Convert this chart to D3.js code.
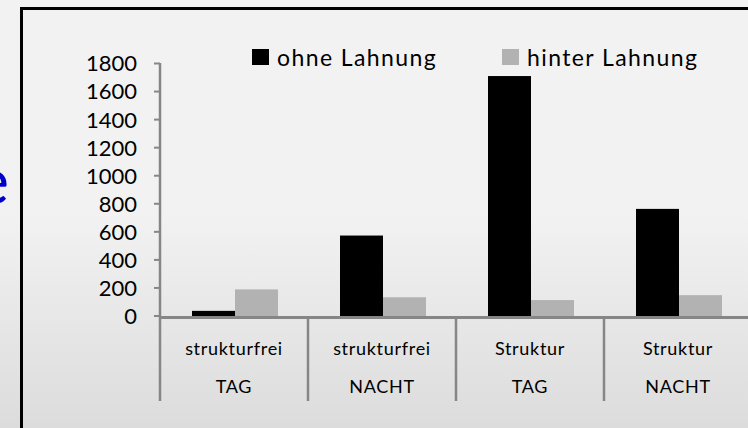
<!DOCTYPE html>
<html>
<head>
<meta charset="utf-8">
<script src="https://cdn.jsdelivr.net/npm/d3@7"></script>
<style>
  html, body { margin: 0; padding: 0; }
  body { width: 748px; height: 428px; overflow: hidden; }
</style>
</head>
<body>
<div id="chart"></div>
<script>
var width = 748,
    height = 428

// data
var places = ["strukturfrei", "strukturfrei", "Struktur", "Struktur"]
var times = ["TAG", "NACHT", "TAG", "NACHT"]
var seriesNames = ["ohne Lahnung", "hinter Lahnung"]
var ohne = [33, 570, 1707, 760]
var hinter = [186, 130, 110, 145]
var yTicks = [0, 200, 400, 600, 800, 1000, 1200, 1400, 1600, 1800]

var colors = ["#000000", "#b2b2b2"]
var font = "Lato, 'Open Sans', sans-serif"

var svg = d3.select("#chart")
  .append("svg")
    .attr("width", width)
    .attr("height", height)

// background gradient
var grad = svg.append("defs").append("linearGradient")
    .attr("id", "bg")
    .attr("x1", 0).attr("y1", 0).attr("x2", 0).attr("y2", 1)
grad.append("stop").attr("offset", "0.5").attr("stop-color", "#f2f2f2")
grad.append("stop").attr("offset", "1").attr("stop-color", "#dcdcdc")
svg.append("rect")
    .attr("width", width).attr("height", height)
    .attr("fill", "url(#bg)")

// blue title letter, cut off at the left edge as in the slide
svg.append("text")
    .attr("x", 9).attr("y", 204)
    .attr("text-anchor", "end")
    .style("font-family", font)
    .style("font-size", "66px")
    .attr("fill", "#0000c8")
    .text("e")

// frame
svg.append("path")
    .attr("d", "M21.5,428 L21.5,8.5 L748,8.5")
    .attr("fill", "none")
    .attr("stroke", "#000")
    .attr("stroke-width", 3)

var rows = places.map(function(p, i) {
  return { key: i, place: p, time: times[i], values: [ohne[i], hinter[i]] }
})

var x = d3.scaleBand()
  .domain(rows.map(function(d) { return d.key }))
  .range([160, 752])

var x1 = d3.scaleBand()
  .domain(seriesNames)
  .range([-42, 44])

var y = d3.scaleLinear()
  .domain([0, 1800])
  .range([315.5, 63])

// bars
var groups = svg.selectAll("g.cat")
  .data(rows)
  .enter()
  .append("g")
    .attr("class", "cat")
    .attr("transform", function(d) { return "translate(" + (x(d.key) + x.bandwidth() / 2) + ",0)" })

groups.selectAll("rect")
  .data(function(d) { return d.values.map(function(v, j) { return { name: seriesNames[j], value: v, j: j } }) })
  .enter()
  .append("rect")
    .attr("x", function(d) { return x1(d.name) })
    .attr("width", x1.bandwidth())
    .attr("y", function(d) { return y(d.value) })
    .attr("height", function(d) { return y(0) - y(d.value) + 0.5 })
    .attr("fill", function(d) { return colors[d.j] })

// y axis
var yAxis = svg.append("g")
    .attr("transform", "translate(160,0)")
    .call(d3.axisLeft(y).tickValues(yTicks).tickFormat(d3.format("d"))
      .tickSize(6).tickPadding(17).tickSizeOuter(0))
yAxis.select(".domain").remove()
yAxis.selectAll(".tick line").attr("stroke", "#868686").attr("stroke-width", 2)
yAxis.selectAll(".tick text")
    .style("font-family", font)
    .style("font-size", "22px")
    .attr("fill", "#000")
    .attr("dy", "0.36em")

// axis lines
svg.append("line")
    .attr("x1", 160).attr("x2", 160)
    .attr("y1", y(1800)).attr("y2", 401)
    .attr("stroke", "#868686").attr("stroke-width", 2.5)
svg.append("line")
    .attr("x1", 160).attr("x2", 752)
    .attr("y1", 317.5).attr("y2", 317.5)
    .attr("stroke", "#868686").attr("stroke-width", 3)

// category dividers
svg.selectAll("line.div")
  .data(rows.slice(1))
  .enter()
  .append("line")
    .attr("class", "div")
    .attr("x1", function(d) { return x(d.key) })
    .attr("x2", function(d) { return x(d.key) })
    .attr("y1", 316).attr("y2", 401)
    .attr("stroke", "#868686").attr("stroke-width", 2.5)

// category labels, two rows
svg.selectAll("text.place")
  .data(rows)
  .enter()
  .append("text")
    .attr("class", "place")
    .attr("x", function(d) { return x(d.key) + x.bandwidth() / 2 })
    .attr("y", 355)
    .attr("text-anchor", "middle")
    .style("font-family", font)
    .style("font-size", "18px")
    .style("letter-spacing", "0.7px")
    .text(function(d) { return d.place })

svg.selectAll("text.time")
  .data(rows)
  .enter()
  .append("text")
    .attr("class", "time")
    .attr("x", function(d) { return x(d.key) + x.bandwidth() / 2 })
    .attr("y", 393)
    .attr("text-anchor", "middle")
    .style("font-family", font)
    .style("font-size", "18px")
    .style("letter-spacing", "0.7px")
    .text(function(d) { return d.time })

// legend
var legendX = [252, 502]
var legend = svg.selectAll("g.legend")
  .data(seriesNames)
  .enter()
  .append("g")
    .attr("class", "legend")
    .attr("transform", function(d, i) { return "translate(" + legendX[i] + ",0)" })
legend.append("rect")
    .attr("x", 0).attr("y", 49)
    .attr("width", 17).attr("height", 16)
    .attr("fill", function(d, i) { return colors[i] })
legend.append("text")
    .attr("x", 25).attr("y", 66)
    .style("font-family", font)
    .style("font-size", "23px")
    .style("letter-spacing", "1.4px")
    .text(function(d) { return d })
</script>
</body>
</html>
